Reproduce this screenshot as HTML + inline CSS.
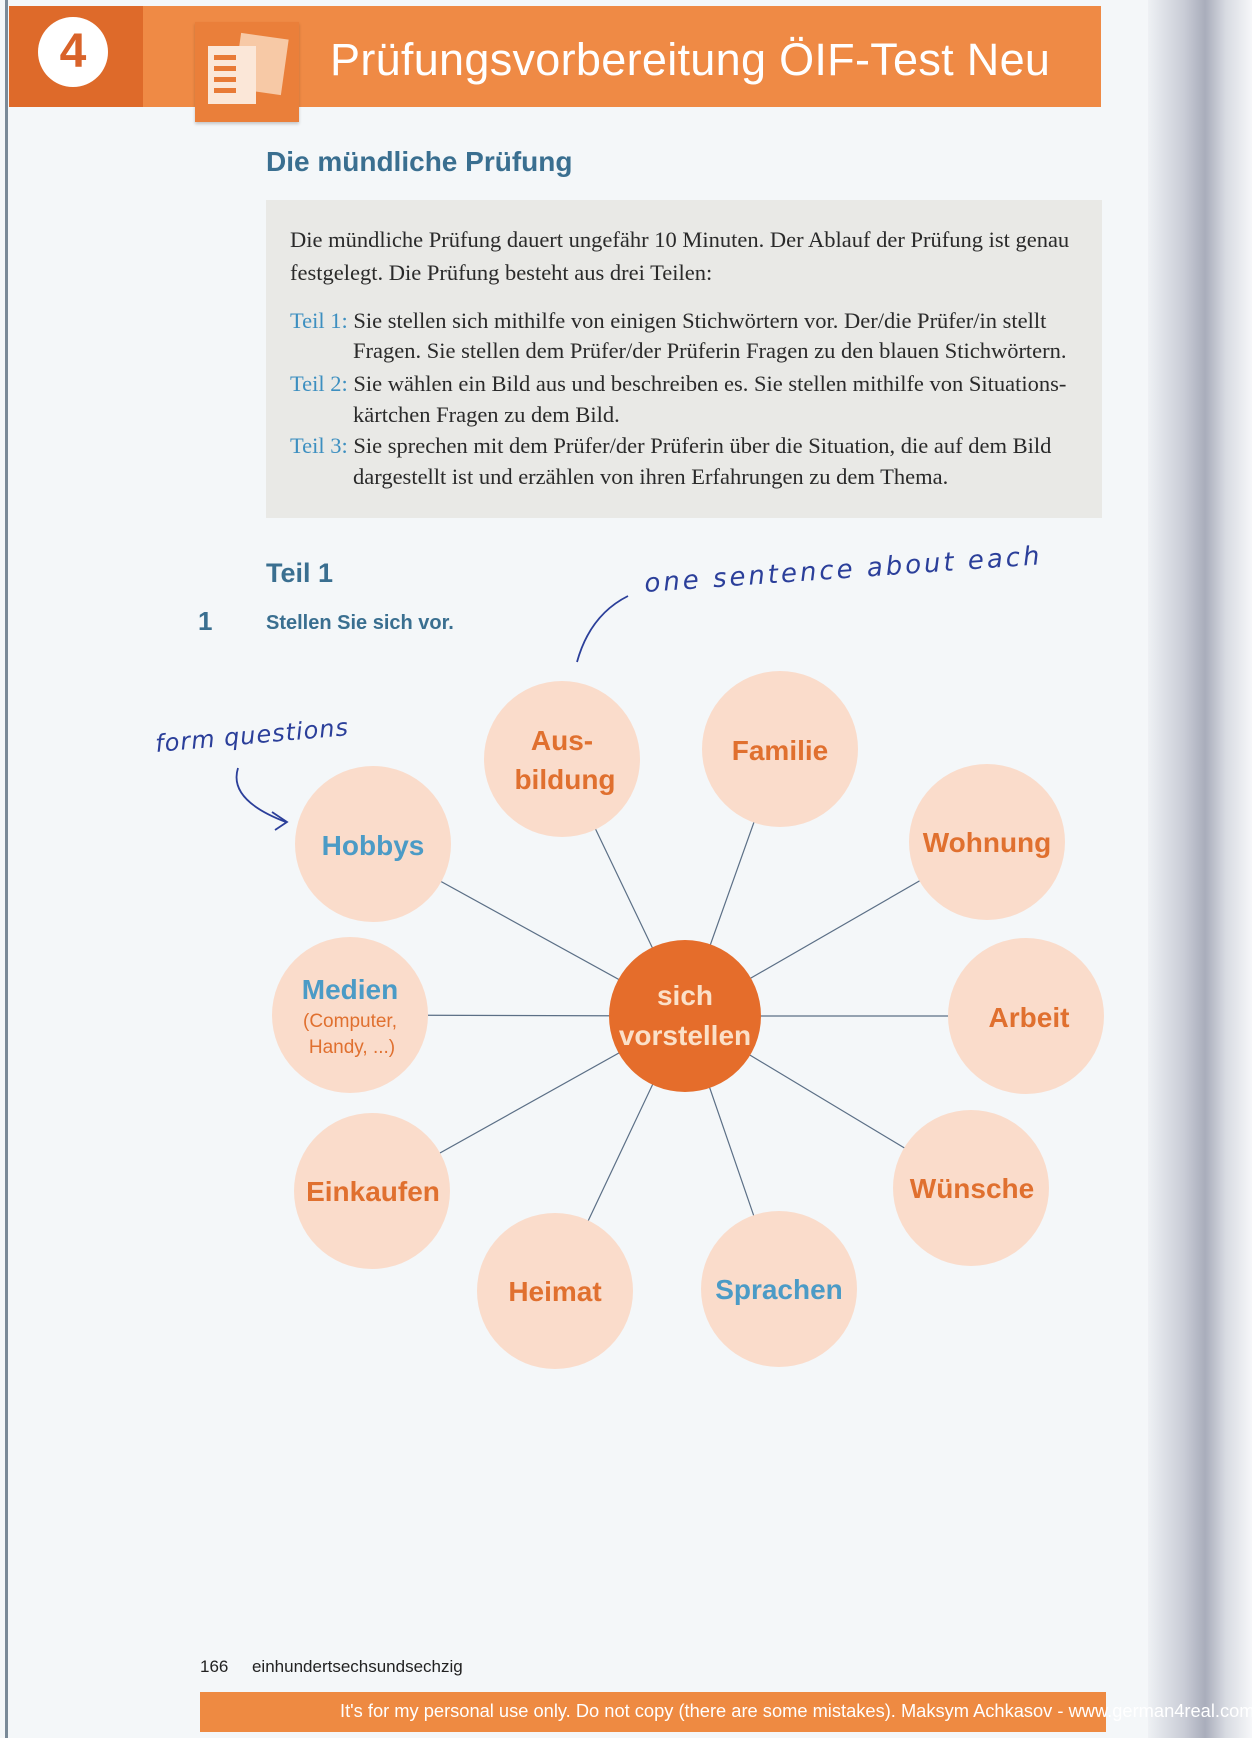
<!DOCTYPE html>
<html><head><meta charset="utf-8"><style>
body{margin:0;width:1252px;height:1738px;background:#f3f6f8;position:relative;overflow:hidden;font-family:"Liberation Sans",sans-serif}
.a{position:absolute}
.body{font-family:"Liberation Serif",serif;font-size:22.5px;color:#2a2a2a;white-space:nowrap}
.teil{color:#3d8fc0}
</style></head><body>
<div class="a" style="left:0;top:0;width:1252px;height:1738px;background:#f4f7f9"></div>
<div class="a" style="left:5px;top:0;width:3px;height:1738px;background:#7a8a98"></div>
<div class="a" style="left:1148px;top:0;width:104px;height:1738px;background:linear-gradient(90deg,#eef1f4 0%,#c9ccd6 35%,#a9adbb 55%,#d8dbe2 75%,#f6f7f9 100%)"></div>
<div class="a" style="left:9px;top:6px;width:134px;height:101px;background:#de6a2a"></div>
<div class="a" style="left:143px;top:6px;width:958px;height:101px;background:#ef8a45"></div>
<div class="a" style="left:38px;top:17px;width:70px;height:70px;border-radius:50%;background:#fff;text-align:center;line-height:70px;font-size:48px;font-weight:bold;color:#d9632a">4</div>
<div class="a" style="left:195px;top:22px;width:104px;height:100px;background:#ea7f3a;box-shadow:0 2px 3px rgba(0,0,0,.2)"></div>
<div class="a" style="left:237px;top:36px;width:48px;height:56px;background:#f7c9a6;transform:rotate(8deg)"></div>
<div class="a" style="left:208px;top:46px;width:48px;height:58px;background:#fbe7d8"></div>
<div class="a" style="left:214px;top:55px;width:22px;height:5px;background:#e87a36;box-shadow:0 11px 0 #e87a36,0 22px 0 #e87a36,0 33px 0 #e87a36"></div>
<div class="a" style="left:330px;top:34px;font-size:45px;color:#fff;white-space:nowrap;letter-spacing:0.3px">Prüfungsvorbereitung ÖIF-Test Neu</div>
<div class="a" style="left:266px;top:146px;font-size:28px;font-weight:bold;color:#3a6f90">Die mündliche Prüfung</div>
<div class="a" style="left:266px;top:200px;width:836px;height:318px;background:#e9e9e6"></div>
<div class="a body" style="left:290px;top:227px">Die mündliche Prüfung dauert ungefähr 10 Minuten. Der Ablauf der Prüfung ist genau</div>
<div class="a body" style="left:290px;top:260px">festgelegt. Die Prüfung besteht aus drei Teilen:</div>
<div class="a body" style="left:290px;top:308px"><span class="teil">Teil 1:</span> Sie stellen sich mithilfe von einigen Stichwörtern vor. Der/die Prüfer/in stellt</div>
<div class="a body" style="left:353px;top:338px">Fragen. Sie stellen dem Prüfer/der Prüferin Fragen zu den blauen Stichwörtern.</div>
<div class="a body" style="left:290px;top:371px"><span class="teil">Teil 2:</span> Sie wählen ein Bild aus und beschreiben es. Sie stellen mithilfe von Situations-</div>
<div class="a body" style="left:353px;top:402px">kärtchen Fragen zu dem Bild.</div>
<div class="a body" style="left:290px;top:433px"><span class="teil">Teil 3:</span> Sie sprechen mit dem Prüfer/der Prüferin über die Situation, die auf dem Bild</div>
<div class="a body" style="left:353px;top:464px">dargestellt ist und erzählen von ihren Erfahrungen zu dem Thema.</div>
<div class="a" style="left:266px;top:558px;font-size:27px;font-weight:bold;color:#3a6f90">Teil 1</div>
<div class="a" style="left:198px;top:606px;font-size:26px;font-weight:bold;color:#3a6f90">1</div>
<div class="a" style="left:266px;top:612px;font-size:20px;font-weight:bold;color:#3a6f90">Stellen Sie sich vor.</div>
<svg class="a" style="left:0;top:0" width="1252" height="1738">
<g stroke="#5b6f86" stroke-width="1.2">
<line x1="685" y1="1016" x2="562" y2="759"/><line x1="685" y1="1016" x2="780" y2="749"/>
<line x1="685" y1="1016" x2="987" y2="842"/><line x1="685" y1="1016" x2="1026" y2="1016"/>
<line x1="685" y1="1016" x2="971" y2="1188"/><line x1="685" y1="1016" x2="779" y2="1289"/>
<line x1="685" y1="1016" x2="555" y2="1291"/><line x1="685" y1="1016" x2="372" y2="1191"/>
<line x1="685" y1="1016" x2="350" y2="1015"/><line x1="685" y1="1016" x2="373" y2="844"/>
</g>
<g fill="#fadccb">
<circle cx="562" cy="759" r="78"/><circle cx="780" cy="749" r="78"/><circle cx="987" cy="842" r="78"/>
<circle cx="1026" cy="1016" r="78"/><circle cx="971" cy="1188" r="78"/><circle cx="779" cy="1289" r="78"/>
<circle cx="555" cy="1291" r="78"/><circle cx="372" cy="1191" r="78"/><circle cx="350" cy="1015" r="78"/>
<circle cx="373" cy="844" r="78"/>
</g>
<circle cx="685" cy="1016" r="76" fill="#e56d2b"/>
<g font-family="Liberation Sans,sans-serif" font-weight="bold" font-size="28" text-anchor="middle" fill="#e0702f">
<text x="562" y="750">Aus-</text><text x="565" y="789">bildung</text>
<text x="780" y="760">Familie</text><text x="987" y="852">Wohnung</text>
<text x="1029" y="1027">Arbeit</text><text x="972" y="1198">Wünsche</text>
<text x="555" y="1301">Heimat</text><text x="373" y="1201">Einkaufen</text>
<text x="373" y="855" fill="#4b9bc6">Hobbys</text><text x="350" y="999" fill="#4b9bc6">Medien</text>
<text x="779" y="1299" fill="#4b9bc6">Sprachen</text>
<text x="685" y="1005" fill="#fbe0c8">sich</text><text x="685" y="1045" fill="#fbe0c8">vorstellen</text>
<text x="350" y="1027" font-weight="normal" font-size="19">(Computer,</text>
<text x="352" y="1053" font-weight="normal" font-size="19">Handy, ...)</text>
</g>
<g fill="none" stroke="#2b3f9a" stroke-width="1.8">
<path d="M577 662 Q590 615 628 596"/>
<path d="M238 768 Q228 800 286 822"/><path d="M272 812 L287 822 L275 830"/>
</g>
<g font-family="DejaVu Sans,sans-serif" font-style="italic" fill="#2b3f9a">
<text x="645" y="592" font-size="26" letter-spacing="3" transform="rotate(-4 645 592)">one sentence about each</text>
<text x="156" y="752" font-size="24" letter-spacing="1" transform="rotate(-5 156 752)">form questions</text>
</g>
</svg>
<div class="a" style="left:200px;top:1657px;font-size:17px;color:#222">166&nbsp;&nbsp;&nbsp;&nbsp;&nbsp;einhundertsechsundsechzig</div>
<div class="a" style="left:200px;top:1692px;width:906px;height:40px;background:#ee8a42"></div>
<div class="a" style="left:340px;top:1700px;font-size:18.3px;color:#fff;white-space:nowrap">It's for my personal use only. Do not copy (there are some mistakes). Maksym Achkasov - www.german4real.com</div>
</body></html>
